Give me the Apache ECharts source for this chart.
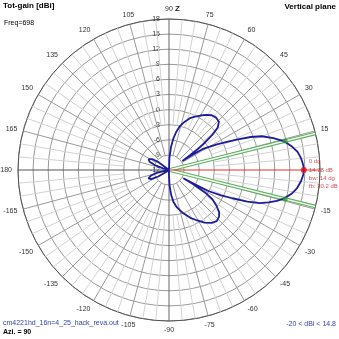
<!DOCTYPE html>
<html><head><meta charset="utf-8">
<script src="https://cdn.jsdelivr.net/npm/echarts@6/dist/echarts.min.js"></script>
<style>html,body{margin:0;padding:0;background:#fff}#c{width:339px;height:339px}</style>
</head><body><div id="c"></div>
<script>
// ---- data (angle in degrees, gain in dBi) ----
const patternAngles = [-180,-175,-171,-167,-163,-158,-153,-149,-145,-141,-130,-110,-95,-91,-88,-85,-82,-78,-72,-66,-62,-56,-51,-47,-43,-40,-37,-34,-32,-30.5,-30,-29,-28,-26,-24,-22,-20,-18,-16,-14,-11,-8,-5,-2,0,2,5,8,11,14,17,20,22,24,26,28,30,32,33,34,35,36,37,39,41,44,48,52,56,60,64,68,72,76,79,82,85,88,91,100,120,135,139,143,147,152,157,161,165,169,180];
const patternGains  = [-12,-12,-11.5,-9.5,-8.3,-7.6,-8.0,-9.5,-11.5,-12,-12,-12,-12,-11.2,-9.0,-7.0,-5.6,-4.4,-3.0,-1.6,-0.8,0.6,1.5,1.9,1.6,1.0,-0.2,-1.6,-3.5,-6.5,-8.7,-6.0,-3.0,-0.5,1.8,4.8,7.2,8.8,10.3,11.5,12.8,13.7,14.3,14.7,14.78,14.7,14.35,13.8,12.8,11.6,9.7,7.6,5.5,3.0,0.8,-1.2,-2.8,-4.2,-6.5,-8.8,-7.0,-5.0,-3.5,-1.0,0.8,1.8,2.0,1.8,1.2,0.5,-0.2,-0.9,-1.9,-3.0,-4.2,-5.6,-7.4,-9.6,-12,-12,-12,-12,-11.5,-9.5,-8.0,-7.4,-7.8,-9.0,-10.8,-12,-12];
const peakAngle = 0;
const peakGain = 14.78;
const halfPowerAngles = [14, -14];
const halfPowerGain = 11.78;
const radialMin = -12, radialMax = 18, radialStep = 3;
const angleStep = 15;
const markerLines = ['0 dg', '14.78 dB', 'bw: 14 dg', 'fb: 30.2 dB'];
const titleLeft = 'Tot-gain [dBi]';
const freqText = 'Freq=698';
const titleRight = 'Vertical plane';
const fileText = 'cm4221hd_16n=4_25_hack_reva.out';
const aziText = 'Azi. = 90';
const rangeText = '-20 < dBi < 14.8';

// ---- helpers ----
const FONT = "'Liberation Sans', Arial, sans-serif";
const toAx = a => (a < 90 ? a + 360 : a);   // map -180..180 to axis range 90..450
const norm = v => (v > 180 ? v - 360 : v);

const chart = echarts.init(document.getElementById('c'), null, {renderer: 'canvas'});
const series = [];
function seg(data, color, width, z) {
  series.push({type: 'line', coordinateSystem: 'polar', data, symbol: 'none', silent: true,
    animation: false, z, lineStyle: {color, width}, clip: false});
}
// spokes
for (let a = 0; a < 360; a += 5) {
  if (a % 90 === 0) continue;
  const major = a % angleStep === 0;
  seg([[major ? -9 : -3, toAx(norm(a))], [radialMax, toAx(norm(a))]], major ? '#9a9a9a' : '#d2d2d2', 1, major ? 2 : 1);
}
// main axes
seg([[radialMax, toAx(90)], [radialMin, toAx(90)], [radialMax, toAx(-90)]], '#666', 1, 3);
seg([[radialMin, toAx(180)], [radialMax, toAx(180)]], '#555', 1, 3);
// half-power lines (double green)
halfPowerAngles.forEach(a => {
  seg([[radialMin, toAx(a)], [radialMax, toAx(a)]], '#5fb35f', 3.6, 4);
  seg([[radialMin, toAx(a)], [radialMax, toAx(a)]], '#ffffff', 1.3, 5);
});
// peak line
seg([[radialMin, toAx(peakAngle)], [radialMax, toAx(peakAngle)]], '#dd3030', 1, 6);
// pattern
series.push({type: 'line', coordinateSystem: 'polar', symbol: 'none', silent: true, animation: false, z: 10,
  data: patternAngles.map((a, i) => [Math.max(patternGains[i], radialMin), toAx(a)]),
  lineStyle: {color: '#1c1c9c', width: 1.8}});
// half power dots
series.push({type: 'scatter', coordinateSystem: 'polar', z: 11, silent: true, animation: false,
  symbolSize: 5, itemStyle: {color: '#2e9a2e'},
  data: halfPowerAngles.map(a => [halfPowerGain, toAx(a)])});
// peak dot
series.push({type: 'scatter', coordinateSystem: 'polar', z: 12, silent: true, animation: false,
  symbolSize: 6, itemStyle: {color: '#e01010'},
  data: [[peakGain, toAx(peakAngle)]],
  label: {show: true, position: 'right', distance: 2, offset: [0, 4], formatter: markerLines.join('\n'),
    fontSize: 6, lineHeight: 8.3, color: '#d02020', fontFamily: FONT, align: 'left'}});

chart.setOption({
  animation: false,
  backgroundColor: '#fff',
  polar: {center: [169, 170], radius: 151},
  angleAxis: {type: 'value', min: 90, max: 450, interval: angleStep, startAngle: 90, clockwise: false,
    axisLine: {show: true, lineStyle: {color: '#555', width: 1}},
    axisTick: {show: false},
    splitLine: {show: false},
    axisLabel: {margin: 6, fontSize: 7, color: '#333', fontFamily: FONT,
      formatter: v => { const a = norm(v); if (v === 450 || a === 0) return ''; return String(a); }}},
  radiusAxis: {type: 'value', min: radialMin, max: radialMax, interval: radialStep,
    axisLine: {show: false}, axisTick: {show: false},
    axisLabel: {showMinLabel: true, showMaxLabel: true, fontSize: 7, color: '#333', fontFamily: FONT, margin: 9},
    splitLine: {show: true, lineStyle: {color: '#9a9a9a', width: 1}}},
  graphic: [
    {type: 'text', left: 3, top: 2, style: {text: titleLeft, font: "bold 8px " + FONT, fill: '#000'}},
    {type: 'text', left: 4, top: 20, style: {text: freqText, font: "7px " + FONT, fill: '#000'}},
    {type: 'text', right: 3, top: 3, style: {text: titleRight, font: "bold 8px " + FONT, fill: '#000'}},
    {type: 'text', left: 175, top: 5, style: {text: 'Z', font: "bold 8px " + FONT, fill: '#222'}},
    {type: 'text', left: 3, top: 320, style: {text: fileText, font: "7px " + FONT, fill: '#3344aa'}},
    {type: 'text', left: 3, top: 329, style: {text: aziText, font: "bold 7px " + FONT, fill: '#000'}},
    {type: 'text', right: 3, top: 321, style: {text: rangeText, font: "7px " + FONT, fill: '#3344aa'}}
  ],
  series
});
</script></body></html>
